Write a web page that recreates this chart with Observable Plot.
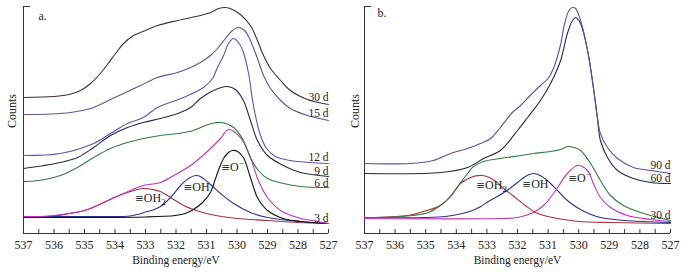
<!DOCTYPE html>
<html><head><meta charset="utf-8">
<script src="https://cdn.jsdelivr.net/npm/d3@7"></script>
<script src="https://cdn.jsdelivr.net/npm/@observablehq/plot@0.6"></script>
<style>
html,body{margin:0;padding:0;background:#fff;}
#wrap{display:flex;width:693px;height:274px;overflow:hidden;}
#wrap svg{display:block;}
</style></head><body><div id="wrap"></div>
<script>
// ---- tick values ----
const majorTicks = [537,536,535,534,533,532,531,530,529,528,527];
const minorTicks = [536.5,536,535.5,535,534.5,534,533.5,533,532.5,532,531.5,531,530.5,530,529.5,529,528.5,528,527.5,527];

// ---- panel a: spectra [binding energy eV, counts (a.u.)] ----
const dayNamesA = ["30 d","15 d","12 d","9 d","6 d","3 d"];
const a_30d = [[537,136],[536,137],[535.5,139],[535.13,143],[534.8,150],[534.48,160],[534.25,169],[533.98,180],[533.72,190],[533.39,198],[533.16,201],[532.6,208],[531.95,213],[531.2,218],[530.87,221],[530.6,225],[530.38,226],[530.15,224],[529.89,219],[529.56,208],[529.33,193],[529.13,178],[528.9,165],[528.57,153],[528.25,143],[527.69,134],[527,129]];
const a_15d = [[537,119],[536.1,119.5],[535.46,121],[534.8,125],[534.15,134],[533.72,140],[533.16,148],[532.61,156],[531.95,161],[531.52,166],[531.2,171],[530.87,178],[530.64,185],[530.38,195],[530.15,203],[529.95,206],[529.75,203],[529.56,193],[529.33,175],[529.13,158],[528.9,145],[528.57,133],[528.25,125],[527.69,118],[527,113]];
const a_12d = [[537,78],[535.79,80],[534.7,90],[534.15,100],[533.59,110],[533.07,116],[532.61,126],[531.75,136],[531.1,146],[530.8,155],[530.64,166],[530.44,178],[530.28,190],[530.11,195],[529.95,191],[529.79,181],[529.62,160],[529.49,133],[529.36,113],[529.23,98],[529.03,85],[528.74,77],[528.25,73],[527.59,71],[527,70]];
const a_9d = [[537,65],[535.79,71],[535.23,76],[534.7,86],[534.15,98],[533.59,106],[533.07,111],[532.51,115],[531.95,120],[531.52,126],[531.2,135],[530.77,143],[530.34,147],[530.05,144],[529.79,133],[529.56,113],[529.33,93],[529,78],[528.48,68],[527.92,61],[527,57]];
const a_6d = [[537,52],[536.5,53],[535.79,58],[535.23,66],[534.7,76],[534.15,85],[533.59,91],[533.07,95],[532.51,98],[531.95,100],[531.43,103],[531.03,108],[530.77,110.5],[530.5,111],[530.11,106],[529.79,93],[529.56,76],[529.3,63],[529,55],[528.48,50],[527.92,47],[527,46]];
const a_3d = [[537,17],[536.51,17],[536.02,18],[535.49,20],[535,23],[534.51,29],[534.02,36],[533.49,43],[533.07,48],[532.51,51],[531.95,60],[531.43,70],[530.87,85],[530.54,95],[530.28,104],[529.89,96],[529.56,76],[529.3,53],[529,36],[528.57,23],[528.02,16],[527.36,12],[527,10]];
// panel a: fitted components
const compNames = ["≡OH₂","≡OH","≡O⁻"];
const a_OH2 = [[537,17],[536.02,17.5],[535.49,20],[535,23],[534.51,29],[534.02,36],[533.49,42],[533.07,45],[532.77,44],[532.51,42],[532.18,36],[531.75,28],[531.43,24],[531,20],[530.51,17],[530,15],[529,13],[528,11],[527,10]];
const a_OH = [[537,17],[534.48,17],[533.5,17.5],[533.2,19.5],[533,21.5],[532.75,23.5],[532.51,27],[532.18,36],[531.85,48],[531.59,55],[531.36,58],[531.2,57],[530.87,49],[530.54,40],[530.11,30],[529.56,21],[529,16],[527.92,12],[527,10]];
const a_O = [[537,16],[535,16],[533,16.5],[532.02,18],[531.69,20],[531.43,24],[531.13,31],[530.87,41],[530.77,49],[530.61,63],[530.44,75],[530.28,81],[530.15,83],[529.98,82],[529.79,76],[529.56,56],[529.33,36],[529,23],[528.48,15],[527.92,12],[527,10]];

// ---- panel b ----
const dayNamesB = ["90 d","60 d","30 d"];
const b_90d = [[537,70],[535.5,70],[534.75,73],[534.19,80],[533.63,85],[533.21,90],[532.88,95],[532.56,106],[532.2,120],[531.9,128],[531.65,136],[531.25,148],[531,155],[530.8,167],[530.6,188],[530.45,211],[530.3,224],[530.2,226],[530.1,225],[529.94,213],[529.71,183],[529.52,146],[529.39,116],[529.29,100],[529.06,86],[528.73,75],[528.21,66],[527.65,63],[527,60]];
const b_60d = [[537,60],[534.5,61],[533.63,66],[533.11,75],[532.56,83],[532,103],[531.67,116],[531.25,133],[530.92,150],[530.59,173],[530.37,200],[530.2,213],[530.1,216],[529.94,210],[529.71,183],[529.52,146],[529.39,116],[529.29,93],[529.06,76],[528.73,63],[528.21,55],[527.65,51],[527,50]];
const b_30d = [[537,16],[536,16.5],[535.43,18],[534.91,21],[534.52,28],[534.19,37],[533.86,51],[533.63,60],[533.44,67],[533.11,72],[532.56,75],[531.9,78],[531.48,80],[530.92,82],[530.59,84],[530.37,87],[530.15,86],[529.94,83],[529.61,70],[529.29,53],[528.96,38],[528.54,28],[527.98,21],[527,13]];
const b_OH2 = [[537,16],[536.71,16],[535.59,18],[535.07,22],[534.52,28],[534.19,37],[533.86,50],[533.54,56],[533.14,58],[532.75,53],[532.49,46],[532.16,38],[531.74,28],[531.41,21],[530.86,16],[530,12],[528.9,11],[527,10]];
const b_OH = [[537,16],[535,16],[534.35,17],[533.8,20],[533.47,23],[533.2,27],[532.95,32],[532.6,38],[532.3,44],[532,51],[531.74,57],[531.48,60],[531.2,57],[530.92,50],[530.66,42],[530.37,33],[530,25],[529.6,19],[529.29,16],[528.5,13],[527,11]];
const b_O = [[537,15],[532.56,15],[532,16],[531.48,21],[531.15,28],[530.82,40],[530.37,60],[530.04,68],[529.71,63],[529.52,50],[529.29,36],[528.96,26],[528.41,18],[527.65,14],[527,12]];

// ---- styles ----
const C = {maroon:"#4a2a3c", purple:"#6a4b9e", violet:"#6650b0", navy:"#262848", green:"#2f7d3e", magenta:"#c233c0", red:"#a8323f", blue:"#2c3290", black:"#111111"};
const FONT = "'Liberation Serif','Times New Roman',serif";

function line(data, color) {
  return Plot.line(data, {x: d => d[0], y: d => d[1], stroke: color, strokeWidth: 1.1, curve: "catmull-rom"});
}
function peak(data) { return d3.greatest(data, d => d[1]); }
function compLabel(data, text, dx, dy) {
  const p = peak(data);
  return Plot.text([p], {x: d => d[0], y: d => d[1], text: () => text, dx, dy, fontSize: 12, fill: "#222", lineAnchor: "middle", className: "comp"});
}
function endLabels(series, dys) {
  return series.map((s, i) => Plot.text([s], {x: d => d.data[d.data.length-1][0], y: d => d.data[d.data.length-1][1], text: d => d.name, textAnchor: "end", lineAnchor: "middle", dy: dys[i], fontSize: 11.5, fill: "#222"}));
}

function frame(tag, countsDx, tagDx, tagDy) {
  return [
    Plot.ruleY([0], {stroke: "#333", strokeWidth: 1}),
    Plot.ruleX([537], {stroke: "#333", strokeWidth: 1}),
    Plot.ruleY([227], {x1: 537, x2: 536.77, stroke: "#333", strokeWidth: 1}),
    Plot.ruleX(minorTicks, {x: d => d, y1: 0, y2: 4, stroke: "#333", strokeWidth: 1}),
    Plot.axisX({ticks: majorTicks, tickSize: 0, tickPadding: 7, fontSize: 12, label: null, tickFormat: d => String(d)}),
    Plot.text(["Binding energy/eV"], {frameAnchor: "bottom", dy: 27, lineAnchor: "middle", fontSize: 11.5, fill: "#222"}),
    Plot.text(["Counts"], {frameAnchor: "left", rotate: -90, dx: countsDx, dy: 8, lineAnchor: "middle", fontSize: 12, fill: "#222"}),
    Plot.text([tag], {frameAnchor: "top-left", dx: tagDx, dy: tagDy, textAnchor: "start", lineAnchor: "middle", fontSize: 12, fill: "#222"})
  ];
}

const common = {height: 274, marginTop: 6, marginBottom: 41,
  x: {domain: [537, 527], axis: null}, y: {domain: [0, 227], axis: null},
  style: {fontFamily: FONT, fontSize: "12px", background: "white", color: "#222"}};

const seriesA = [a_30d, a_15d, a_12d, a_9d, a_6d, a_3d].map((data, i) => ({name: dayNamesA[i], data}));
const plotA = Plot.plot({...common, width: 346, marginLeft: 23, marginRight: 18,
  marks: [
    ...frame("a.", -11, 15, 10),
    line(a_OH2, C.red), line(a_OH, C.blue), line(a_O, C.black),
    line(a_3d, C.magenta), line(a_6d, C.green), line(a_9d, C.navy),
    line(a_12d, C.violet), line(a_15d, C.purple), line(a_30d, C.maroon),
    ...endLabels(seriesA, [-7, -7, -6, -5, -4, -5]),
    compLabel(a_OH2, compNames[0], 7, 10),
    compLabel(a_OH, compNames[1], 1, 12),
    compLabel(a_O, compNames[2], 0, 17)
  ]});

const seriesB = [b_90d, b_60d, b_30d].map((data, i) => ({name: dayNamesB[i], data}));
const plotB = Plot.plot({...common, width: 347, marginLeft: 18, marginRight: 23,
  marks: [
    ...frame("b.", -9, 13, 7),
    line(b_OH2, C.red), line(b_OH, C.blue), line(b_O, C.magenta),
    line(b_30d, C.green), line(b_60d, C.navy), line(b_90d, C.purple),
    ...endLabels(seriesB, [-8, -5, -5]),
    compLabel(b_OH2, compNames[0], 9, 10),
    compLabel(b_OH, compNames[1], 2, 11),
    compLabel(b_O, compNames[2], 2, 13)
  ]});

// render the ≡ sign with a font whose triple bar is clearly drawn; keep sub/superscripts as real text
function refineLabels(svg) {
  d3.select(svg).selectAll("g.comp text").each(function() {
    const t = this.textContent;
    const sel = d3.select(this);
    sel.text("");
    sel.append("tspan").attr("font-family", "'DejaVu Sans'").attr("font-size", 10.5).text("≡");
    if (t.endsWith("₂")) {
      sel.append("tspan").text("OH");
      sel.append("tspan").attr("font-size", 9).attr("dy", 3).text("2");
    } else if (t.endsWith("⁻")) {
      sel.append("tspan").text("O");
      sel.append("tspan").attr("font-size", 9).attr("dy", -5).text("−");
    } else {
      sel.append("tspan").text(t.slice(1));
    }
  });
}
refineLabels(plotA); refineLabels(plotB);

document.getElementById("wrap").append(plotA, plotB);
</script></body></html>
